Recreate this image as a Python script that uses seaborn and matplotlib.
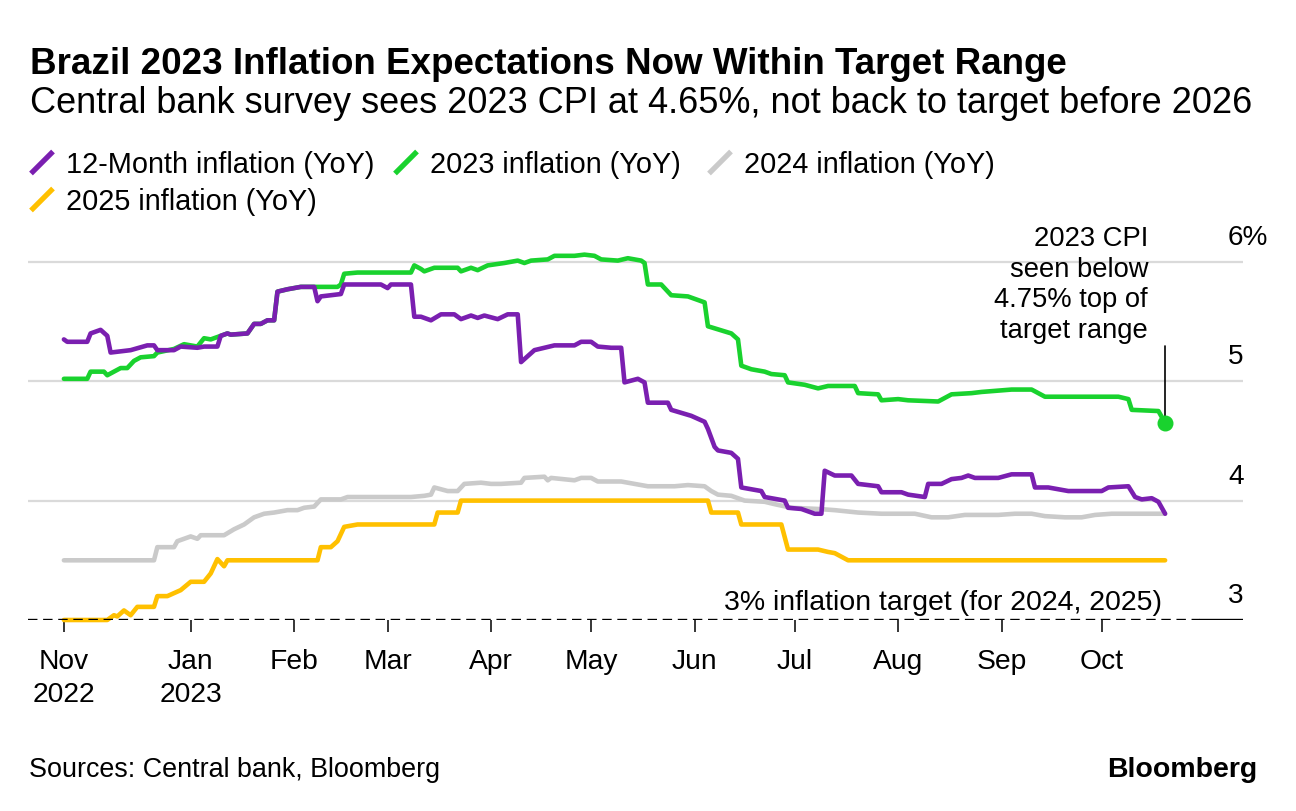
import matplotlib
matplotlib.use("Agg")
import matplotlib.pyplot as plt
import matplotlib.dates as mdates
from matplotlib.lines import Line2D
from matplotlib.transforms import blended_transform_factory
import pandas as pd
import seaborn as sns

# ---------------- data ----------------
m12_dates = ["2022-11-24","2022-11-25","2022-12-01","2022-12-02","2022-12-05","2022-12-07","2022-12-08","2022-12-14","2022-12-19","2022-12-21","2022-12-22","2022-12-27","2022-12-29","2023-01-03","2023-01-05","2023-01-09","2023-01-10","2023-01-12","2023-01-13","2023-01-18","2023-01-20","2023-01-22","2023-01-24","2023-01-26","2023-01-27","2023-01-30","2023-02-03","2023-02-07","2023-02-08","2023-02-09","2023-02-15","2023-02-16","2023-02-27","2023-03-01","2023-03-02","2023-03-08","2023-03-09","2023-03-11","2023-03-14","2023-03-17","2023-03-21","2023-03-23","2023-03-26","2023-03-28","2023-03-30","2023-04-03","2023-04-06","2023-04-09","2023-04-10","2023-04-14","2023-04-17","2023-04-20","2023-04-26","2023-04-28","2023-05-01","2023-05-03","2023-05-07","2023-05-10","2023-05-11","2023-05-15","2023-05-17","2023-05-18","2023-05-24","2023-05-25","2023-05-31","2023-06-04","2023-06-05","2023-06-07","2023-06-08","2023-06-12","2023-06-14","2023-06-15","2023-06-21","2023-06-22","2023-06-28","2023-06-29","2023-07-03","2023-07-07","2023-07-09","2023-07-10","2023-07-13","2023-07-18","2023-07-20","2023-07-26","2023-07-27","2023-08-02","2023-08-04","2023-08-09","2023-08-10","2023-08-14","2023-08-17","2023-08-20","2023-08-22","2023-08-24","2023-08-31","2023-09-04","2023-09-10","2023-09-11","2023-09-15","2023-09-21","2023-10-01","2023-10-03","2023-10-09","2023-10-11","2023-10-13","2023-10-16","2023-10-18","2023-10-20"]
m12_vals = [5.35,5.33,5.33,5.40,5.43,5.38,5.24,5.26,5.30,5.30,5.26,5.26,5.29,5.28,5.29,5.29,5.38,5.40,5.39,5.40,5.48,5.48,5.51,5.51,5.75,5.77,5.79,5.79,5.67,5.71,5.73,5.81,5.81,5.78,5.81,5.81,5.54,5.54,5.51,5.56,5.56,5.52,5.55,5.53,5.55,5.52,5.56,5.56,5.16,5.26,5.28,5.30,5.30,5.33,5.33,5.29,5.28,5.28,4.99,5.02,4.99,4.82,4.82,4.76,4.71,4.66,4.60,4.45,4.42,4.40,4.35,4.11,4.08,4.03,4.00,3.94,3.93,3.89,3.89,4.25,4.21,4.21,4.14,4.12,4.07,4.07,4.05,4.03,4.14,4.14,4.18,4.19,4.21,4.19,4.19,4.22,4.22,4.11,4.11,4.08,4.08,4.11,4.12,4.03,4.01,4.02,3.99,3.89]

y2023_dates = ["2022-11-24","2022-12-01","2022-12-02","2022-12-06","2022-12-07","2022-12-11","2022-12-13","2022-12-15","2022-12-17","2022-12-21","2022-12-22","2022-12-27","2022-12-30","2023-01-03","2023-01-05","2023-01-07","2023-01-09","2023-01-12","2023-01-13","2023-01-18","2023-01-20","2023-01-22","2023-01-24","2023-01-26","2023-01-27","2023-01-30","2023-02-03","2023-02-14","2023-02-15","2023-02-16","2023-02-20","2023-03-08","2023-03-09","2023-03-11","2023-03-12","2023-03-15","2023-03-22","2023-03-23","2023-03-26","2023-03-28","2023-03-31","2023-04-05","2023-04-09","2023-04-11","2023-04-13","2023-04-18","2023-04-20","2023-04-26","2023-04-29","2023-05-02","2023-05-04","2023-05-09","2023-05-12","2023-05-16","2023-05-17","2023-05-18","2023-05-22","2023-05-25","2023-05-30","2023-06-04","2023-06-05","2023-06-12","2023-06-14","2023-06-15","2023-06-18","2023-06-22","2023-06-24","2023-06-28","2023-06-29","2023-07-04","2023-07-08","2023-07-11","2023-07-19","2023-07-20","2023-07-26","2023-07-27","2023-08-01","2023-08-04","2023-08-13","2023-08-17","2023-08-23","2023-08-26","2023-09-04","2023-09-10","2023-09-14","2023-10-06","2023-10-09","2023-10-10","2023-10-18","2023-10-20"]
y2023_vals = [5.02,5.02,5.08,5.08,5.05,5.11,5.11,5.17,5.20,5.21,5.24,5.27,5.31,5.29,5.36,5.35,5.37,5.40,5.39,5.40,5.48,5.48,5.51,5.51,5.75,5.77,5.79,5.79,5.81,5.90,5.91,5.91,5.97,5.94,5.92,5.95,5.95,5.92,5.95,5.93,5.97,5.99,6.01,5.99,6.01,6.02,6.05,6.05,6.06,6.05,6.02,6.01,6.03,6.01,5.99,5.81,5.81,5.72,5.71,5.66,5.46,5.40,5.35,5.13,5.10,5.08,5.06,5.05,4.99,4.97,4.94,4.96,4.96,4.90,4.89,4.84,4.85,4.84,4.83,4.89,4.90,4.91,4.93,4.93,4.87,4.87,4.85,4.76,4.75,4.65]

y2024_dates = ["2022-11-24","2022-12-21","2022-12-22","2022-12-27","2022-12-28","2023-01-01","2023-01-03","2023-01-04","2023-01-11","2023-01-14","2023-01-17","2023-01-20","2023-01-23","2023-01-26","2023-01-30","2023-02-02","2023-02-04","2023-02-07","2023-02-09","2023-02-15","2023-02-17","2023-03-08","2023-03-12","2023-03-14","2023-03-15","2023-03-19","2023-03-22","2023-03-24","2023-03-29","2023-04-01","2023-04-04","2023-04-10","2023-04-11","2023-04-17","2023-04-18","2023-04-19","2023-04-26","2023-04-28","2023-05-01","2023-05-03","2023-05-10","2023-05-12","2023-05-18","2023-05-26","2023-05-30","2023-06-04","2023-06-06","2023-06-08","2023-06-12","2023-06-16","2023-06-22","2023-06-25","2023-06-30","2023-07-08","2023-07-13","2023-07-20","2023-07-27","2023-08-06","2023-08-11","2023-08-16","2023-08-21","2023-08-31","2023-09-05","2023-09-10","2023-09-14","2023-09-20","2023-09-25","2023-09-29","2023-10-04","2023-10-20"]
y2024_vals = [3.50,3.50,3.61,3.61,3.66,3.70,3.68,3.71,3.71,3.76,3.80,3.86,3.89,3.90,3.92,3.92,3.94,3.95,4.01,4.01,4.03,4.03,4.04,4.05,4.11,4.08,4.08,4.14,4.15,4.14,4.14,4.15,4.19,4.20,4.17,4.19,4.17,4.19,4.19,4.16,4.16,4.15,4.12,4.12,4.13,4.12,4.08,4.05,4.04,4.00,3.99,3.97,3.94,3.93,3.92,3.90,3.89,3.89,3.86,3.86,3.88,3.88,3.89,3.89,3.87,3.86,3.86,3.88,3.89,3.89]

y2025_dates = ["2022-11-24","2022-12-07","2022-12-09","2022-12-10","2022-12-12","2022-12-14","2022-12-16","2022-12-21","2022-12-22","2022-12-25","2022-12-29","2023-01-01","2023-01-05","2023-01-07","2023-01-09","2023-01-11","2023-01-12","2023-02-08","2023-02-09","2023-02-12","2023-02-14","2023-02-16","2023-02-20","2023-03-15","2023-03-16","2023-03-22","2023-03-23","2023-06-05","2023-06-06","2023-06-14","2023-06-15","2023-06-27","2023-06-29","2023-07-08","2023-07-11","2023-07-13","2023-07-17","2023-10-20"]
y2025_vals = [3.00,3.00,3.04,3.03,3.08,3.04,3.11,3.11,3.20,3.20,3.25,3.32,3.32,3.39,3.51,3.45,3.50,3.50,3.61,3.61,3.66,3.78,3.80,3.80,3.90,3.90,4.00,4.00,3.90,3.90,3.80,3.80,3.59,3.59,3.57,3.56,3.50,3.50]

series_names = ["12-Month inflation (YoY)", "2023 inflation (YoY)", "2024 inflation (YoY)", "2025 inflation (YoY)"]
series_colors = ["#7A1FB0", "#19D22E", "#CACACA", "#FFC000"]

tick_dates = ["2022-11-24","2023-01-01","2023-02-01","2023-03-01","2023-04-01","2023-05-01","2023-06-01","2023-07-01","2023-08-01","2023-09-01","2023-10-01"]
tick_labels = ["Nov\n2022","Jan\n2023","Feb","Mar","Apr","May","Jun","Jul","Aug","Sep","Oct"]
y_levels = [3, 4, 5, 6]
y_labels = ["3", "4", "5", "6%"]
target_value = 3.0

title_text = "Brazil 2023 Inflation Expectations Now Within Target Range"
subtitle_text = "Central bank survey sees 2023 CPI at 4.65%, not back to target before 2026"
note_lines = ["2023 CPI", "seen below", "4.75% top of", "target range"]
target_note = "3% inflation target (for 2024, 2025)"
source_text = "Sources: Central bank, Bloomberg"
brand_text = "Bloomberg"

# ---------------- styling ----------------
sns.set_style("white")
plt.rcParams["font.family"] = ["Liberation Sans", "DejaVu Sans"]
plt.rcParams["text.color"] = "black"
FS = 19.7

W, H = 1296, 812
fig = plt.figure(figsize=(W / 100, H / 100), dpi=100)
fig.patch.set_facecolor("white")


def fx(x):
    return x / W


def fy(y):
    return 1 - y / H


X0, X1 = 28, 1243
Y_BASE, PX_PER_UNIT = 621, 119.4
YMIN, YMAX = 3.0, 6.3
ax = fig.add_axes([fx(X0), fy(Y_BASE), (X1 - X0) / W, (YMAX - YMIN) * PX_PER_UNIT / H])
ax.set_facecolor("white")

frames = []
for name, d, v in zip(series_names,
                      [m12_dates, y2023_dates, y2024_dates, y2025_dates],
                      [m12_vals, y2023_vals, y2024_vals, y2025_vals]):
    frames.append(pd.DataFrame({"date": pd.to_datetime(d), "value": v, "series": name}))
df = pd.concat(frames, ignore_index=True)

palette = dict(zip(series_names, series_colors))
draw_order = [series_names[2], series_names[3], series_names[1], series_names[0]]
sns.lineplot(data=df, x="date", y="value", hue="series", hue_order=draw_order,
             palette=palette, linewidth=3.3, legend=False, estimator=None, ax=ax)
for ln in ax.lines:
    ln.set_clip_on(False)
    ln.set_solid_joinstyle("round")
    ln.set_solid_capstyle("round")

# axis ranges
jan1 = mdates.date2num(pd.Timestamp("2023-01-01"))
PX_PER_DAY = 3.337
JAN1_PX = 190.7
ax.set_xlim(jan1 - (JAN1_PX - X0) / PX_PER_DAY, jan1 + (X1 - JAN1_PX) / PX_PER_DAY)
ax.set_ylim(YMIN, YMAX)

# grid + target line
for v in y_levels[1:]:
    ax.axhline(v, color="#DADADA", lw=1.6, zorder=0)
split = (1200 - X0) / (X1 - X0)
ax.axhline(target_value, xmin=0, xmax=split, color="black", lw=1.7, dashes=(4, 2.4), zorder=6)
ax.axhline(target_value, xmin=split, xmax=1, color="black", lw=1.7, zorder=6)

# y labels at right, above gridlines
trans = blended_transform_factory(ax.transAxes, ax.transData)
for v, lbl in zip(y_levels, y_labels):
    ax.text((1228 - X0) / (X1 - X0), v + 17.7 / PX_PER_UNIT, lbl, transform=trans,
            ha="left", va="baseline", fontsize=20.2, color="black")

# x ticks
ax.set_xticks(pd.to_datetime(tick_dates))
ax.set_xticklabels(tick_labels)
ax.tick_params(axis="x", bottom=True, length=8.5, width=1.1, color="black", pad=11.5,
               labelsize=20.3, labelcolor="black", direction="out")
for lbl in ax.get_xticklabels():
    lbl.set_linespacing(1.38)
ax.set_yticks([])
ax.set_xlabel("")
ax.set_ylabel("")
for s in ax.spines.values():
    s.set_visible(False)

# end-point marker and pointer
end_date = pd.to_datetime(y2023_dates[-1])
ax.plot([end_date], [y2023_vals[-1]], "o", ms=10.5, color=series_colors[1], clip_on=False, zorder=7)
ax.plot([end_date, end_date], [y2023_vals[-1], 3 + (Y_BASE - 347) / PX_PER_UNIT],
        color="black", lw=1.2, zorder=6, clip_on=False)

# annotation text
for i, line in enumerate(note_lines):
    fig.text(fx(1148), fy(246 + i * 30.7), line, ha="right", va="baseline", fontsize=FS, color="black")
fig.text(fx(1162), fy(610), target_note, ha="right", va="baseline", fontsize=20.5, color="black")

# title / subtitle fitted to reference widths
title = fig.text(fx(30), fy(73.5), title_text, fontsize=22, fontweight="bold", ha="left",
                 va="baseline", color="black")
sub = fig.text(fx(30), fy(113), subtitle_text, fontsize=18, ha="left", va="baseline", color="black")
renderer = fig.canvas.get_renderer()
for t, target in [(title, 1035), (sub, 1222)]:
    w = t.get_window_extent(renderer).width
    t.set_fontsize(t.get_fontsize() * target / w)

# legend (manual, slanted swatches)
LFS = 20.8
legend_pos = [(31, 163.5), (395, 163.5), (709, 163.5), (31, 200.5)]
for (x0, yc), name, col in zip(legend_pos, series_names, series_colors):
    fig.add_artist(Line2D([fx(x0), fx(x0 + 22)], [fy(yc + 11), fy(yc - 11)],
                          transform=fig.transFigure, color=col, lw=3.8, solid_capstyle="butt"))
    fig.text(fx(x0 + 35), fy(yc + 9.5), name, fontsize=LFS, ha="left", va="baseline", color="black")

# footer
fig.text(fx(29), fy(777), source_text, fontsize=19.4, ha="left", va="baseline", color="black")
fig.text(fx(1257), fy(777), brand_text, fontsize=20.5, fontweight="bold", ha="right",
         va="baseline", color="black")

fig.savefig("out.png", dpi=100, facecolor="white")
